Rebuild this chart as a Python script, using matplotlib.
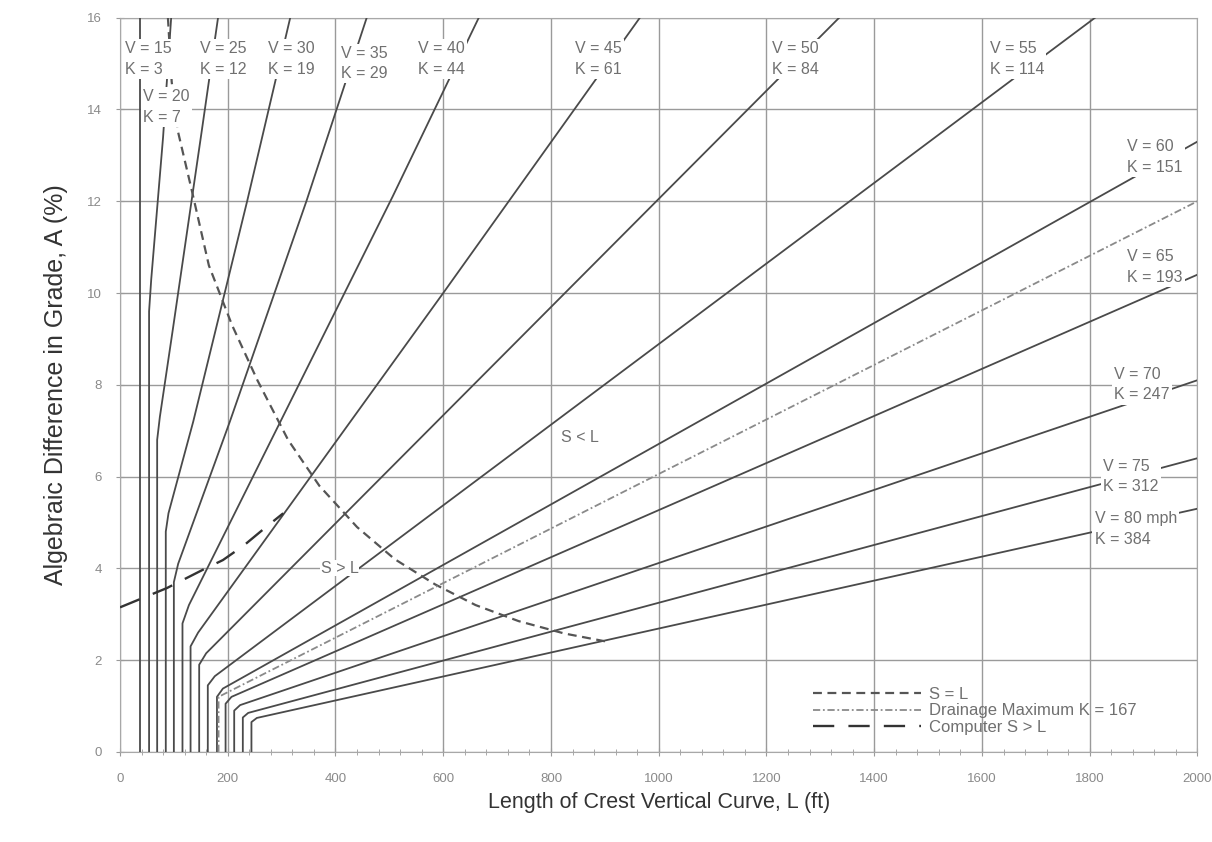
import matplotlib
matplotlib.use("Agg")
import matplotlib.pyplot as plt
from matplotlib.ticker import MultipleLocator

plt.rcParams['font.family'] = ['Liberation Sans', 'DejaVu Sans']

# design speed (mph) and K value for each curve
speeds = [15, 20, 25, 30, 35, 40, 45, 50, 55, 60, 65, 70, 75, 80]
k_values = [3, 7, 12, 19, 29, 44, 61, 84, 114, 151, 193, 247, 312, 384]

# vertices of each curve: L (ft) and A (%)
curve_L = [
    [38, 38],
    [54, 54, 58, 80, 95],
    [69, 69, 74, 98, 152, 182],
    [85, 85, 90, 136, 236, 316],
    [100, 100, 108, 204, 346, 458],
    [116, 116, 128, 506, 666],
    [131, 131, 145, 600, 965],
    [147, 147, 160, 1335],
    [163, 163, 176, 1810],
    [180, 180, 191, 2000],
    [196, 196, 207, 2000],
    [212, 212, 223, 2000],
    [228, 228, 238, 2000],
    [244, 244, 254, 2000],
]
curve_A = [
    [0, 16],
    [0, 9.6, 10.3, 13.4, 16],
    [0, 6.8, 7.3, 9.2, 13.55, 16],
    [0, 4.8, 5.2, 7.2, 12.0, 16],
    [0, 3.7, 4.1, 7.2, 12.0, 16],
    [0, 2.8, 3.2, 12.1, 16],
    [0, 2.3, 2.6, 10.0, 16],
    [0, 1.9, 2.15, 16],
    [0, 1.45, 1.65, 16],
    [0, 1.2, 1.38, 13.3],
    [0, 1.05, 1.2, 10.4],
    [0, 0.9, 1.02, 8.1],
    [0, 0.75, 0.85, 6.4],
    [0, 0.65, 0.74, 5.3],
]

# S = L locus
sl_L = [89, 96, 108, 134, 165, 208, 255, 312, 370, 440, 510, 585, 660, 740, 825, 905]
sl_A = [16.0, 14.6, 13.5, 12.2, 10.6, 9.3, 8.1, 6.8, 5.8, 4.9, 4.2, 3.65, 3.2, 2.85, 2.58, 2.4]

# drainage maximum K = 167
drain_L = [183, 183, 2000]
drain_A = [0, 1.2, 12.0]

# computer S > L
comp_L = [0, 87, 154, 191, 230, 269, 303]
comp_A = [3.15, 3.57, 3.97, 4.18, 4.5, 4.88, 5.2]

# label anchor points (left edge, vertical centre)
label_L = [9, 43, 148, 275, 410, 553, 844, 1211, 1614, 1870, 1870, 1846, 1825, 1809]
label_A = [15.1, 14.05, 15.1, 15.1, 15.0, 15.1, 15.1, 15.1, 15.1, 12.96, 10.57, 8.0, 6.0, 4.86]

fig = plt.figure(figsize=(12.12, 8.42), dpi=100)
ax = fig.add_axes([0.099, 0.107, 0.889, 0.872])

line_col = '#4a4a4a'
text_col = '#707070'

for L, A in zip(curve_L, curve_A):
    ax.plot(L, A, color=line_col, lw=1.3, zorder=3)

ax.plot(sl_L, sl_A, color='#555555', lw=1.6, dashes=(4, 2.5), zorder=4,
        label="S = L")
ax.plot(drain_L, drain_A, color='#8a8a8a', lw=1.3, dashes=(4, 1.5, 1, 1.5),
        zorder=4, label="Drainage Maximum K = 167")
ax.plot(comp_L, comp_A, color='#333333', lw=1.7, dashes=(9, 6), zorder=4,
        label="Computer S > L")

for i, (v, k) in enumerate(zip(speeds, k_values)):
    vtxt = f"V = {v} mph" if v == 80 else f"V = {v}"
    ax.text(label_L[i], label_A[i], f"{vtxt}\nK = {k}", ha='left', va='center',
            fontsize=11.5, color=text_col, linespacing=1.45, zorder=5,
            bbox=dict(facecolor='white', edgecolor='none', pad=1.5))

ax.text(853, 6.86, "S < L", ha='center', va='center', fontsize=11.5,
        color=text_col, zorder=5)
ax.text(408, 4.0, "S > L", ha='center', va='center', fontsize=11.5,
        color=text_col, zorder=5,
        bbox=dict(facecolor='white', edgecolor='none', pad=0.5))

ax.set_xlim(0, 2000)
ax.set_ylim(0, 16)
ax.xaxis.set_major_locator(MultipleLocator(200))
ax.xaxis.set_minor_locator(MultipleLocator(40))
ax.yaxis.set_major_locator(MultipleLocator(2))
ax.grid(True, which='major', color='#9a9a9a', lw=1.0, zorder=1)
ax.tick_params(axis='both', which='major', labelsize=9.5, labelcolor='#8a8a8a',
               color='#9a9a9a', direction='inout', length=6)
ax.tick_params(axis='x', which='major', pad=12)
ax.tick_params(axis='y', which='major', pad=10)
ax.tick_params(axis='x', which='minor', color='#9a9a9a', direction='inout',
               length=4)
for s in ax.spines.values():
    s.set_color('#a8a8a8')

ax.set_xlabel("Length of Crest Vertical Curve, L (ft)", fontsize=15.5,
              color='#333333', labelpad=5)
ax.set_ylabel("Algebraic Difference in Grade, A (%)", fontsize=18,
              color='#333333', labelpad=14)

leg = ax.legend(loc='upper left', bbox_to_anchor=(0.635, 0.1), frameon=False,
                fontsize=12, handlelength=6.5, handletextpad=0.5,
                labelspacing=0.1, borderpad=0)
for t in leg.get_texts():
    t.set_color(text_col)

fig.savefig("out.png", dpi=100)
